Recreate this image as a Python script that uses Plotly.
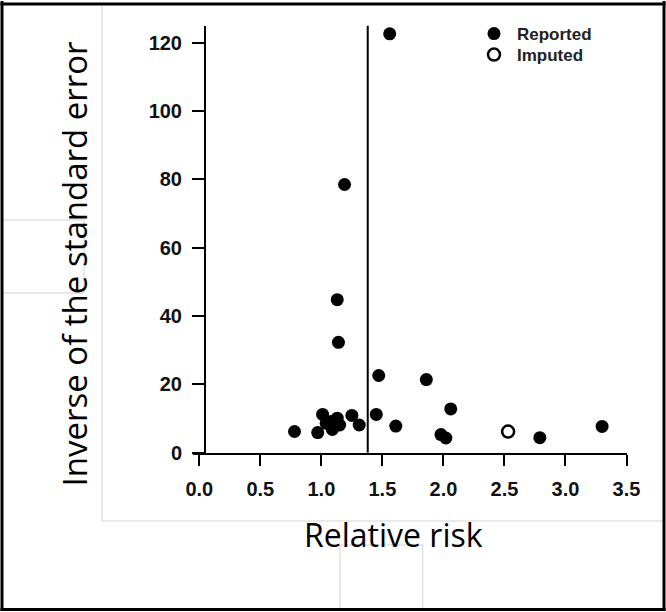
import plotly.graph_objects as go

# ---- data ----
reported_rr = [1.56, 1.19, 1.13, 1.14, 1.47, 1.86, 2.06, 1.45, 1.61, 3.30,
               2.79, 1.98, 2.02, 0.78, 0.97, 1.01, 1.04, 1.08, 1.09, 1.13,
               1.15, 1.25, 1.31]
reported_inv_se = [122.6, 78.5, 44.8, 32.3, 22.6, 21.4, 12.8, 11.2, 7.8, 7.7,
                   4.4, 5.3, 4.3, 6.2, 5.9, 11.2, 8.6, 9.1, 6.8, 10.1,
                   8.1, 10.9, 8.1]
imputed_rr = [2.53]
imputed_inv_se = [6.2]
pooled_rr = 1.38

x_ticks = [0.0, 0.5, 1.0, 1.5, 2.0, 2.5, 3.0, 3.5]
y_ticks = [0, 20, 40, 60, 80, 100, 120]

W, H = 666, 612
def px(x):
    return x / W
def py(y):
    return (H - y) / H

legend_font = dict(family="Liberation Sans, Arial", size=17, color="#222222", weight="bold")

fig = go.Figure()
fig.add_trace(go.Scatter(
    x=reported_rr, y=reported_inv_se, mode="markers", name="Reported",
    marker=dict(size=13, color="black", line=dict(width=0)),
    legend="legend",
))
fig.add_trace(go.Scatter(
    x=imputed_rr, y=imputed_inv_se, mode="markers", name="Imputed",
    marker=dict(size=12, color="white", line=dict(width=2.5, color="black")),
    legend="legend2",
))

shapes = []
# pooled estimate vertical line
shapes.append(dict(type="line", xref="x", yref="y", x0=pooled_rr, x1=pooled_rr,
                   y0=0, y1=125, line=dict(color="black", width=2)))
# faint screenshot frame lines
gray = "#d3d3d3"
for (x0, y0, x1, y1) in [
    (3, 220, 84, 220), (3, 293, 84, 293), (84, 220, 84, 293),
    (102, 6, 102, 521), (102, 521, 663, 521),
    (340, 545, 422.7, 545), (340, 545, 340, 608), (422.7, 545, 422.7, 608),
]:
    shapes.append(dict(type="line", xref="paper", yref="paper",
                       x0=px(x0), x1=px(x1), y0=py(y0), y1=py(y1),
                       line=dict(color=gray, width=1)))
# outer border, as four separate lines
for (x0, y0, x1, y1) in [
    (0.5, 4, 665.5, 4), (0.5, 609.5, 665.5, 609.5),
    (2, 1, 2, 611), (664, 1, 664, 611),
]:
    shapes.append(dict(type="line", xref="paper", yref="paper",
                       x0=px(x0), x1=px(x1), y0=py(y0), y1=py(y1),
                       line=dict(color="black", width=3)))

annotations = [
    dict(text="Relative risk", xref="paper", yref="paper",
         x=px(393.4), y=py(534.3), xanchor="center", yanchor="middle",
         showarrow=False, font=dict(family="Open Sans", size=32, color="black")),
    dict(text="Inverse of the standard error", xref="paper", yref="paper",
         x=px(74), y=py(264.5), xanchor="center", yanchor="middle",
         textangle=-90, showarrow=False,
         font=dict(family="Open Sans", size=33, color="black")),
]

tickfont = dict(family="Liberation Sans, Arial", size=20, color="#111111", weight="bold")

fig.update_layout(
    width=W, height=H,
    margin=dict(l=0, r=0, t=0, b=0, autoexpand=False),
    paper_bgcolor="white", plot_bgcolor="white",
    showlegend=True,
    legend=dict(x=px(471), y=py(34), xanchor="left", yanchor="middle",
                bgcolor="rgba(0,0,0,0)", borderwidth=0, font=legend_font,
                itemwidth=36),
    legend2=dict(x=px(471), y=py(55), xanchor="left", yanchor="middle",
                 bgcolor="rgba(0,0,0,0)", borderwidth=0, font=legend_font,
                 itemwidth=36),
    xaxis=dict(domain=[px(193.2), px(626.5)], range=[-0.05, 3.5],
               tickvals=x_ticks, ticktext=[f"{v:.1f}" for v in x_ticks],
               ticks="outside", ticklen=11, tickwidth=2, tickcolor="black",
               showline=True, linewidth=2, linecolor="black",
               showgrid=False, zeroline=False, tickfont=tickfont,
               ticklabelstandoff=6, anchor="y", automargin=False),
    yaxis=dict(domain=[py(452.7), py(25.6)], range=[0, 125],
               tickvals=y_ticks, ticks="outside", ticklen=12, tickwidth=2,
               tickcolor="black", showline=True, linewidth=2, linecolor="black",
               showgrid=False, zeroline=False, tickfont=tickfont,
               anchor="free", position=px(205), ticklabelstandoff=6,
               automargin=False),
    shapes=shapes,
    annotations=annotations,
)

fig.write_html(
    "out.html",
    config={"displayModeBar": False},
    post_script="document.body.style.margin='0';document.body.style.overflow='hidden';",
)
